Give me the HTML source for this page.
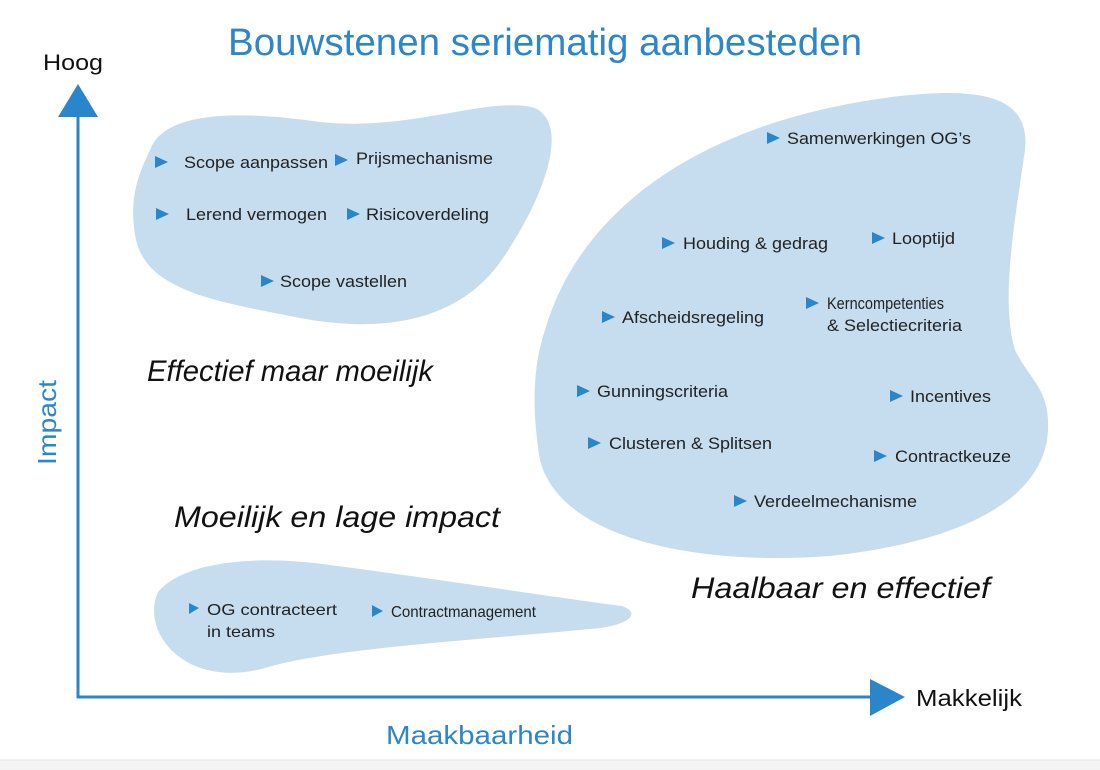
<!DOCTYPE html>
<html><head><meta charset="utf-8"><style>
html,body{margin:0;padding:0;background:#fff;}
svg{display:block;}
text{font-family:"Liberation Sans",sans-serif;}
</style></head><body>
<svg width="1100" height="770" viewBox="0 0 1100 770" xmlns="http://www.w3.org/2000/svg">
<rect x="0" y="0" width="1100" height="770" fill="#fff"/>
<rect x="0" y="760" width="1100" height="10" fill="#f3f3f3"/>
<line x1="0" y1="760" x2="1100" y2="760" stroke="#e4e4e4"/>
<path d="M150,150 C165,108 250,112 320,122 C410,132 490,95 535,108 C570,125 545,195 505,255 C465,318 390,335 300,318 C220,302 148,292 136,240 C128,200 138,175 150,150 Z" fill="#c6ddef"/>
<path d="M545,330 C580,210 700,120 900,96 C990,86 1030,100 1025,150 C1015,220 1000,300 1015,350 C1030,380 1050,390 1048,430 C1045,500 960,542 830,556 C700,566 560,540 540,460 C530,400 535,360 545,330 Z" fill="#c6ddef"/>
<path d="M158,592 C185,560 260,555 330,565 C430,578 560,598 622,606 C640,612 632,624 600,628 C480,640 330,648 265,668 C185,690 140,632 158,592 Z" fill="#c6ddef"/>
<line x1="78" y1="112" x2="78" y2="698" stroke="#2a86cb" stroke-width="3"/>
<polygon points="78,84 58,117 98,117" fill="#2a86cb"/>
<line x1="77" y1="697" x2="875" y2="697" stroke="#2a86cb" stroke-width="3"/>
<polygon points="905,697 870,679 870,716" fill="#2a86cb"/>
<text x="228" y="55" font-size="38" fill="#2b87c9" textLength="634" lengthAdjust="spacingAndGlyphs">Bouwstenen seriematig aanbesteden</text>
<text x="43" y="70" font-size="22" fill="#111" textLength="60" lengthAdjust="spacingAndGlyphs">Hoog</text>
<text x="916" y="706" font-size="23" fill="#111" textLength="106" lengthAdjust="spacingAndGlyphs">Makkelijk</text>
<text x="386" y="744" font-size="26" fill="#2b87c9" textLength="187" lengthAdjust="spacingAndGlyphs">Maakbaarheid</text>
<text transform="translate(56,465) rotate(-90)" font-size="26" fill="#2b87c9" textLength="85" lengthAdjust="spacingAndGlyphs">Impact</text>
<g font-style="italic" font-size="30" fill="#111">
<text x="147" y="381" textLength="286" lengthAdjust="spacingAndGlyphs">Effectief maar moeilijk</text>
<text x="174" y="527" textLength="326" lengthAdjust="spacingAndGlyphs">Moeilijk en lage impact</text>
<text x="691" y="598" textLength="299" lengthAdjust="spacingAndGlyphs">Haalbaar en effectief</text>
</g>
<g fill="#2a86cb">
<polygon points="155,156 168,162 155,168"/>
<polygon points="335,154 348,160 335,166"/>
<polygon points="156,208 169,214 156,220"/>
<polygon points="347,208 360,214 347,220"/>
<polygon points="261,275 274,281 261,287"/>
<polygon points="767,132 780,138 767,144"/>
<polygon points="662,237 675,243 662,249"/>
<polygon points="872,232 885,238 872,244"/>
<polygon points="602,311 615,317 602,323"/>
<polygon points="806,297 819,303 806,309"/>
<polygon points="577,385 590,391 577,397"/>
<polygon points="588,437 601,443 588,449"/>
<polygon points="890,390 903,396 890,402"/>
<polygon points="874,450 887,456 874,462"/>
<polygon points="734,495 747,501 734,507"/>
<polygon points="189,603 199,608 189,614"/>
<polygon points="372,605 383,611 372,617"/>
</g>
<g font-size="17" fill="#222">
<text x="184" y="168" textLength="144" lengthAdjust="spacingAndGlyphs">Scope aanpassen</text>
<text x="356" y="164" textLength="137" lengthAdjust="spacingAndGlyphs">Prijsmechanisme</text>
<text x="186" y="220" textLength="141" lengthAdjust="spacingAndGlyphs">Lerend vermogen</text>
<text x="366" y="220" textLength="123" lengthAdjust="spacingAndGlyphs">Risicoverdeling</text>
<text x="280" y="287" textLength="127" lengthAdjust="spacingAndGlyphs">Scope vastellen</text>
<text x="787" y="144" textLength="184" lengthAdjust="spacingAndGlyphs">Samenwerkingen OG’s</text>
<text x="683" y="249" textLength="145" lengthAdjust="spacingAndGlyphs">Houding &amp; gedrag</text>
<text x="892" y="244" textLength="63" lengthAdjust="spacingAndGlyphs">Looptijd</text>
<text x="622" y="323" textLength="142" lengthAdjust="spacingAndGlyphs">Afscheidsregeling</text>
<text x="827" y="309" textLength="117" lengthAdjust="spacingAndGlyphs">Kerncompetenties</text>
<text x="827" y="331" textLength="135" lengthAdjust="spacingAndGlyphs">&amp; Selectiecriteria</text>
<text x="597" y="397" textLength="131" lengthAdjust="spacingAndGlyphs">Gunningscriteria</text>
<text x="609" y="449" textLength="163" lengthAdjust="spacingAndGlyphs">Clusteren &amp; Splitsen</text>
<text x="910" y="402" textLength="81" lengthAdjust="spacingAndGlyphs">Incentives</text>
<text x="895" y="462" textLength="116" lengthAdjust="spacingAndGlyphs">Contractkeuze</text>
<text x="754" y="507" textLength="163" lengthAdjust="spacingAndGlyphs">Verdeelmechanisme</text>
<text x="207" y="615" font-size="16" textLength="130" lengthAdjust="spacingAndGlyphs">OG contracteert</text>
<text x="207" y="637" font-size="16" textLength="68" lengthAdjust="spacingAndGlyphs">in teams</text>
<text x="391" y="617" font-size="16" textLength="145" lengthAdjust="spacingAndGlyphs">Contractmanagement</text>
</g>
</svg>
</body></html>
